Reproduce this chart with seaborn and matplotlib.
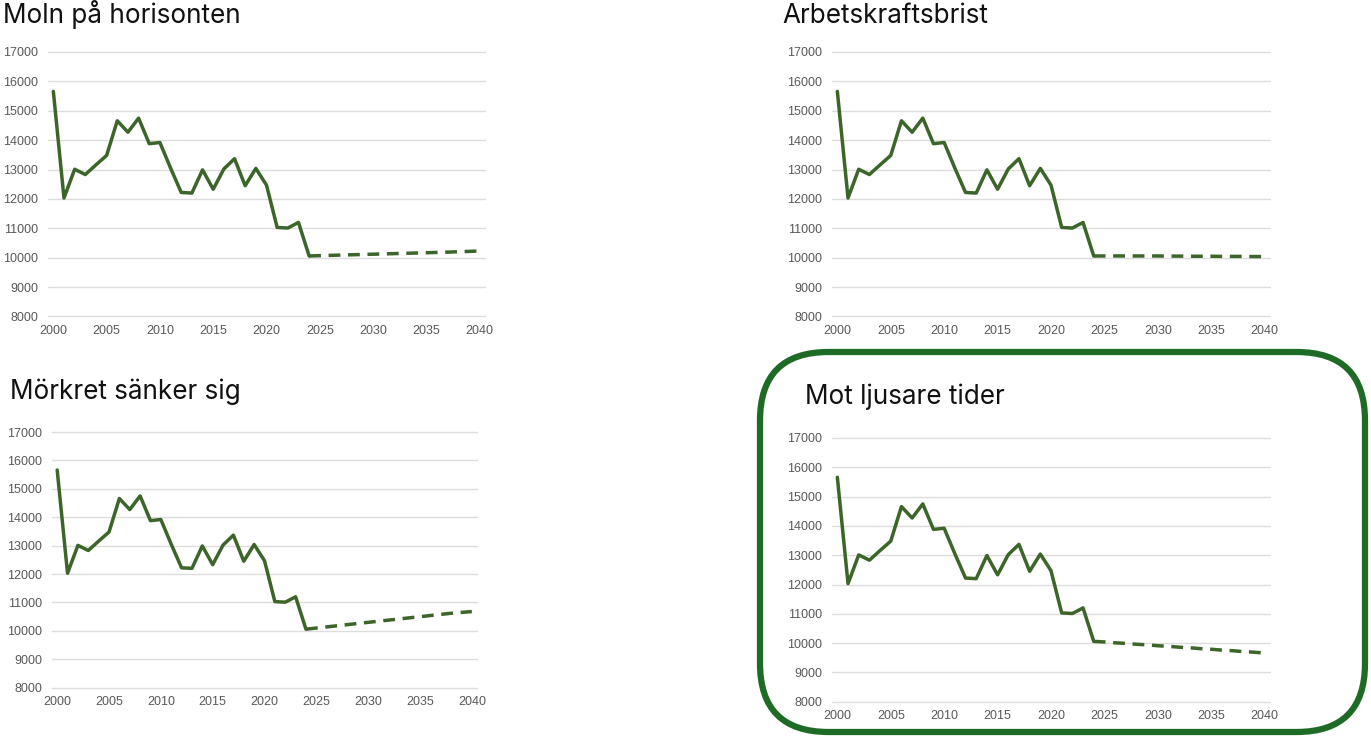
import numpy as np
import pandas as pd
import matplotlib
matplotlib.use("Agg")
import matplotlib.pyplot as plt
import seaborn as sns
from matplotlib.patches import FancyBboxPatch

# historical series 2000-2024
hist_years = list(range(2000, 2025))
hist_values = [15660, 12030, 13010, 12830, 13160, 13480, 14660, 14270, 14750, 13880,
               13920, 13050, 12220, 12200, 12990, 12330, 13020, 13370, 12450, 13040,
               12470, 11030, 11010, 11200, 10060]

# scenario projections 2024-2040
proj_years = list(range(2024, 2041))
moln = [10060, 10070, 10080, 10090, 10100, 10110, 10120, 10130, 10140, 10150,
        10160, 10170, 10180, 10190, 10205, 10215, 10230]
arbetskraft = [10060, 10060, 10060, 10060, 10060, 10060, 10060, 10055, 10055, 10050,
               10050, 10050, 10045, 10045, 10045, 10040, 10040]
morkret = [10060, 10100, 10140, 10180, 10220, 10260, 10300, 10340, 10380, 10420,
           10460, 10500, 10540, 10580, 10620, 10650, 10680]
ljusare = [10060, 10040, 10010, 9990, 9960, 9940, 9910, 9890, 9860, 9840,
           9810, 9790, 9760, 9740, 9710, 9690, 9660]

titles = ["Moln på horisonten", "Arbetskraftsbrist", "Mörkret sänker sig", "Mot ljusare tider"]
projections = [moln, arbetskraft, morkret, ljusare]

x_ticks = [2000, 2005, 2010, 2015, 2020, 2025, 2030, 2035, 2040]
y_ticks = [8000, 9000, 10000, 11000, 12000, 13000, 14000, 15000, 16000, 17000]

sns.set_style("white")
plt.rcParams['font.family'] = ['Liberation Sans', 'DejaVu Sans']

W, H = 1371, 738
fig = plt.figure(figsize=(W / 100, H / 100), dpi=100)

line_col = "#3b6529"
grid_col = "#dcdcdc"
tick_col = "#595959"

# pixel boxes: left, right, top, bottom of plot area; title position
panels = [
    dict(box=(48, 485, 52, 316.5), title=(3, 23)),
    dict(box=(832, 1270, 52, 316.5), title=(782, 23)),
    dict(box=(52, 477, 432, 687.7), title=(10, 399)),
    dict(box=(832, 1270, 438, 701.7), title=(805, 404)),
]

for i, p in enumerate(panels):
    l, r, t, b = p["box"]
    ax = fig.add_axes([l / W, 1 - b / H, (r - l) / W, (b - t) / H])
    sns.lineplot(x=hist_years, y=hist_values, ax=ax, color=line_col, linewidth=2.5)
    sns.lineplot(x=proj_years, y=projections[i], ax=ax, color=line_col, linewidth=2.5)
    ax.lines[-1].set_dashes((3.4, 2.2))
    ax.set_xlim(1999.5, 2040.5)
    ax.set_ylim(8000, 17000)
    ax.set_xticks(x_ticks)
    ax.set_yticks(y_ticks)
    ax.grid(axis="y", color=grid_col, linewidth=1.0)
    ax.set_axisbelow(True)
    for gl in ax.get_ygridlines():
        gl.set_clip_on(False)
    for s in ax.spines.values():
        s.set_visible(False)
    ax.tick_params(axis="both", length=0, labelsize=9, labelcolor=tick_col)
    ax.tick_params(axis="y", pad=7)
    ax.tick_params(axis="x", pad=6)
    ax.set_xlabel("")
    ax.set_ylabel("")
    tx, ty = p["title"]
    fig.text(tx / W, 1 - ty / H, titles[i], fontsize=18.8, family=["Inter", "DejaVu Sans"],
             color="#111111", ha="left", va="baseline")

# highlight frame around the last scenario
frame = FancyBboxPatch((760 / W, 1 - 732 / H), (1365 - 760) / W, (732 - 352) / H,
                       boxstyle="round,pad=0,rounding_size=0.05",
                       transform=fig.transFigure, fill=False,
                       edgecolor="#1d6b24", linewidth=4.5, mutation_aspect=W / H)
fig.patches.append(frame)

fig.savefig("out.png", dpi=100)
